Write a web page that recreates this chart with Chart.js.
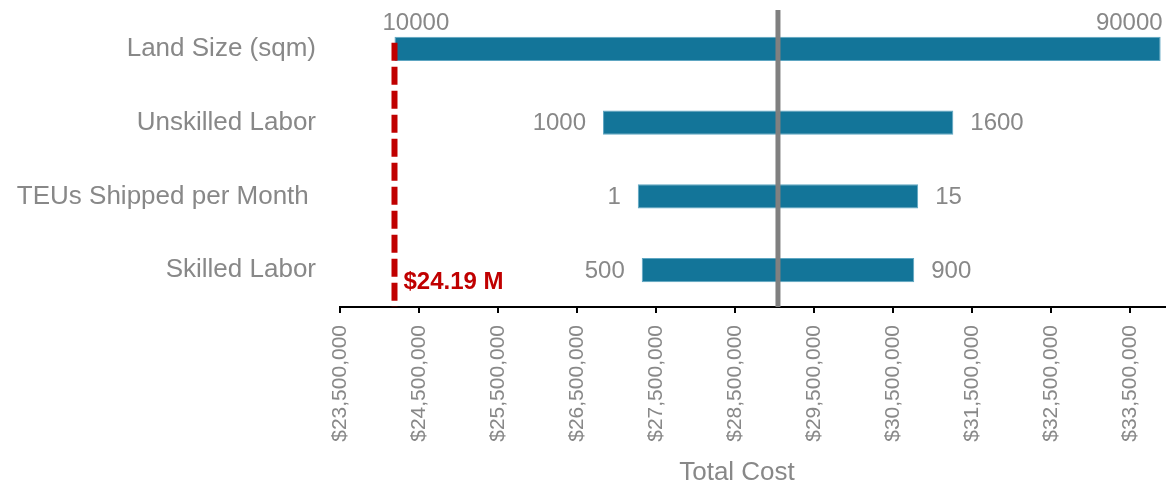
<!DOCTYPE html>
<html>
<head>
<meta charset="utf-8">
<script src="https://cdn.jsdelivr.net/npm/chart.js@4"></script>
<style>
  html, body { margin: 0; padding: 0; background: #fff; }
  #wrap { width: 1176px; height: 486px; }
</style>
</head>
<body>
<div id="wrap"><canvas id="tornado"></canvas></div>
<script>
const categories = ['Land Size (sqm)', 'Unskilled Labor', 'TEUs Shipped per Month ', 'Skilled Labor'];
const lowCost = [24190000, 26830000, 27270000, 27320000];
const highCost = [33890000, 31265000, 30820000, 30770000];
const lowLabels = ['10000', '1000', '1', '500'];
const highLabels = ['90000', '1600', '15', '900'];
const tickValues = [23500000, 24500000, 25500000, 26500000, 27500000, 28500000, 29500000, 30500000, 31500000, 32500000, 33500000];
const baseCost = 29045000;
const markerCost = 24190000;
const markerText = '$24.19 M';
const axisTitle = 'Total Cost';

const gray = '#888888';
const fontFamily = "'Liberation Sans', Arial, sans-serif";

// extra drawing: base line, marker line, end labels, axis title
const tornadoExtras = {
    id: 'tornadoExtras',
    afterDatasetsDraw(chart) {
        const ctx = chart.ctx;
        const xs = chart.scales.x;
        const area = chart.chartArea;
        const meta = chart.getDatasetMeta(0);

        ctx.save();
        ctx.font = '24px ' + fontFamily;
        ctx.fillStyle = gray;
        ctx.textBaseline = 'middle';
        meta.data.forEach((bar, i) => {
            const x0 = xs.getPixelForValue(lowCost[i]);
            const x1 = xs.getPixelForValue(highCost[i]);
            const y = bar.y + 1;
            const top = bar.y - bar.height / 2;
            const wLow = ctx.measureText(lowLabels[i]).width;
            const wHigh = ctx.measureText(highLabels[i]).width;
            if (x0 - 17 - wLow < area.left) {
                ctx.textAlign = 'left';
                ctx.fillText(lowLabels[i], x0 - 12, top - 13);
            } else {
                ctx.textAlign = 'right';
                ctx.fillText(lowLabels[i], x0 - 17, y);
            }
            if (x1 + 17 + wHigh > chart.width) {
                ctx.textAlign = 'right';
                ctx.fillText(highLabels[i], x1 + 2, top - 13);
            } else {
                ctx.textAlign = 'left';
                ctx.fillText(highLabels[i], x1 + 17, y);
            }
        });

        // base case line
        const bx = xs.getPixelForValue(baseCost);
        ctx.strokeStyle = '#808080';
        ctx.lineWidth = 5;
        ctx.beginPath();
        ctx.moveTo(bx, area.top - 2);
        ctx.lineTo(bx, area.bottom);
        ctx.stroke();

        // dashed marker line
        const mx = xs.getPixelForValue(markerCost);
        const firstBar = meta.data[0];
        ctx.strokeStyle = '#C00000';
        ctx.lineWidth = 6;
        ctx.setLineDash([18, 6]);
        ctx.beginPath();
        ctx.moveTo(mx, firstBar.y - firstBar.height / 2 + 6);
        ctx.lineTo(mx, area.bottom);
        ctx.stroke();
        ctx.setLineDash([]);

        ctx.font = 'bold 24px ' + fontFamily;
        ctx.fillStyle = '#C00000';
        ctx.textAlign = 'left';
        ctx.fillText(markerText, mx + 9, area.bottom - 25);

        ctx.font = '26px ' + fontFamily;
        ctx.fillStyle = gray;
        ctx.textAlign = 'center';
        ctx.fillText(axisTitle, 737, 473);
        ctx.restore();
    }
};

const ctx = document.getElementById('tornado').getContext('2d');
const chart = new Chart(ctx, {
    type: 'bar',
    data: {
        labels: categories,
        datasets: [{
            data: lowCost.map((v, i) => [v, highCost[i]]),
            backgroundColor: '#137599',
            borderColor: '#5ea6c2',
            borderWidth: 1,
            borderSkipped: false,
            barPercentage: 0.33,
            categoryPercentage: 1
        }]
    },
    options: {
        indexAxis: 'y',
        responsive: true,
        maintainAspectRatio: false,
        animation: false,
        layout: { padding: { top: 12, right: 11, left: 0, bottom: 0 } },
        plugins: {
            legend: { display: false },
            tooltip: { enabled: false }
        },
        scales: {
            x: {
                type: 'linear',
                min: 23500000,
                max: 33945000,
                afterBuildTicks: s => { s.ticks = tickValues.map(v => ({ value: v })); },
                afterFit: s => { s.height = 179; },
                border: { display: true, color: '#000', width: 2 },
                grid: { drawOnChartArea: false, drawTicks: true, tickLength: 6, color: '#000', lineWidth: 2 },
                ticks: {
                    autoSkip: false,
                    minRotation: 90,
                    maxRotation: 90,
                    padding: 12,
                    color: gray,
                    font: { family: fontFamily, size: 21 },
                    callback: v => '$' + Number(v).toLocaleString('en-US')
                }
            },
            y: {
                afterFit: s => {
                    s.width = 340;
                    s.paddingTop = 0;
                    s.paddingBottom = 0;
                },
                border: { display: false },
                grid: { display: false, drawTicks: false },
                ticks: {
                    padding: 24,
                    color: gray,
                    font: { family: fontFamily, size: 26 }
                }
            }
        }
    },
    plugins: [tornadoExtras]
});
</script>
</body>
</html>
